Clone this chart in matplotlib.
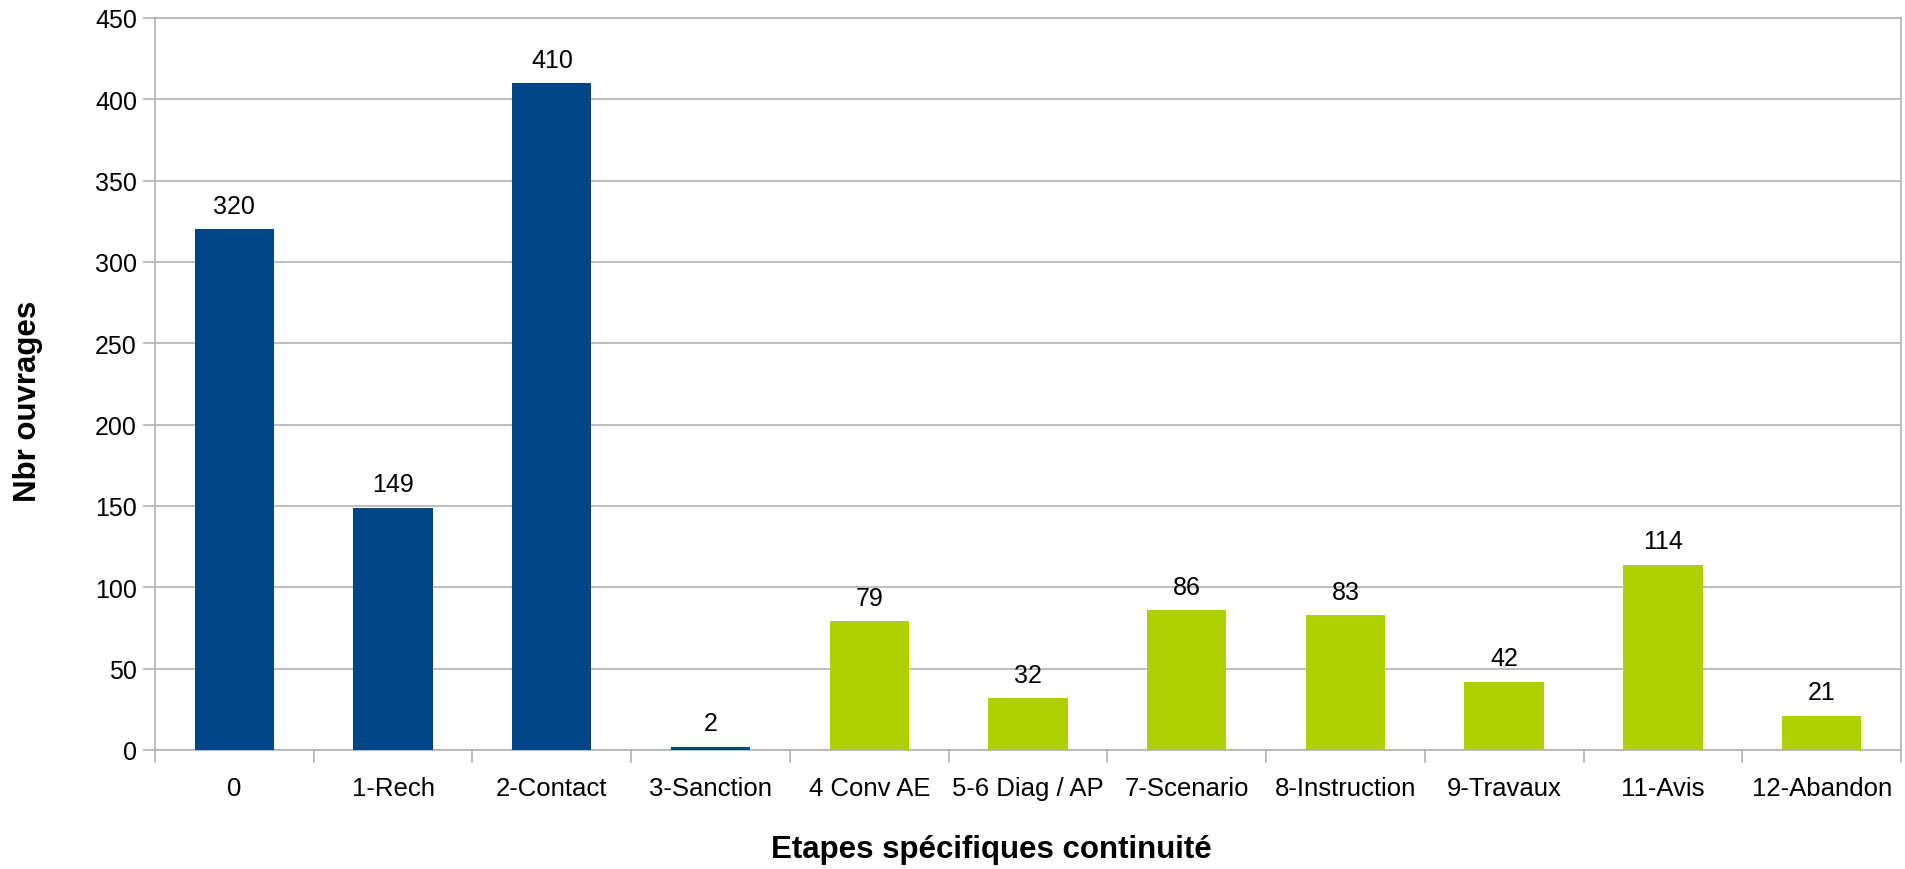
import numpy as np
import matplotlib.pyplot as plt

plt.rcParams['font.family'] = ['Liberation Sans', 'DejaVu Sans']

# données
etapes = ['0', '1-Rech', '2-Contact', '3-Sanction', '4 Conv AE', '5-6 Diag / AP',
          '7-Scenario', '8-Instruction', '9-Travaux', '11-Avis', '12-Abandon']
nbr = [320, 149, 410, 2, 79, 32, 86, 83, 42, 114, 21]
couleurs = ['#004586'] * 4 + ['#aecf00'] * 7

W, H = 1906, 870
# zone de tracé en pixels (gauche, haut, droite, bas)
x0, y0, x1, y1 = 155, 19, 1901, 751

fig = plt.figure(figsize=(W / 100, H / 100), dpi=100)
ax = fig.add_axes([x0 / W, 1 - y1 / H, (x1 - x0) / W, (y1 - y0) / H])

x = np.arange(len(etapes))
bars = ax.bar(x, nbr, width=0.5, color=couleurs, zorder=3)

for b, v in zip(bars, nbr):
    ax.text(b.get_x() + b.get_width() / 2, v + 7, str(v), ha='center', va='bottom',
            fontsize=18, color='black')

ax.set_xlim(-0.5, len(etapes) - 0.5)
ax.set_ylim(0, 450)
ax.set_yticks(np.arange(0, 451, 50))
ax.yaxis.grid(True, color='#b3b3b3', linewidth=1.2, zorder=0)

ax.set_xticks(x)
ax.set_xticklabels(etapes)
ax.set_xticks(np.arange(-0.5, len(etapes), 1), minor=True)
ax.tick_params(axis='x', which='major', length=0, pad=19, labelsize=18.5)
ax.tick_params(axis='x', which='minor', length=9, color='#b3b3b3', width=1.2)
ax.tick_params(axis='y', length=9, color='#b3b3b3', width=1.2, labelsize=18, pad=4)

for s in ax.spines.values():
    s.set_color('#b3b3b3')
    s.set_linewidth(1.2)

ax.set_xlabel('Etapes spécifiques continuité', fontsize=22.5, fontweight='bold')
ax.set_ylabel('Nbr ouvrages', fontsize=22.5, fontweight='bold')
# positions des titres d'axes comme dans l'original
ax.xaxis.label.set_verticalalignment('center')
ax.yaxis.label.set_verticalalignment('center')
ax.xaxis.set_label_coords((991 - x0) / (x1 - x0), (y1 - 850) / (y1 - y0))
ax.yaxis.set_label_coords((28 - x0) / (x1 - x0), (y1 - 401) / (y1 - y0))

fig.savefig('out.png', dpi=100)
